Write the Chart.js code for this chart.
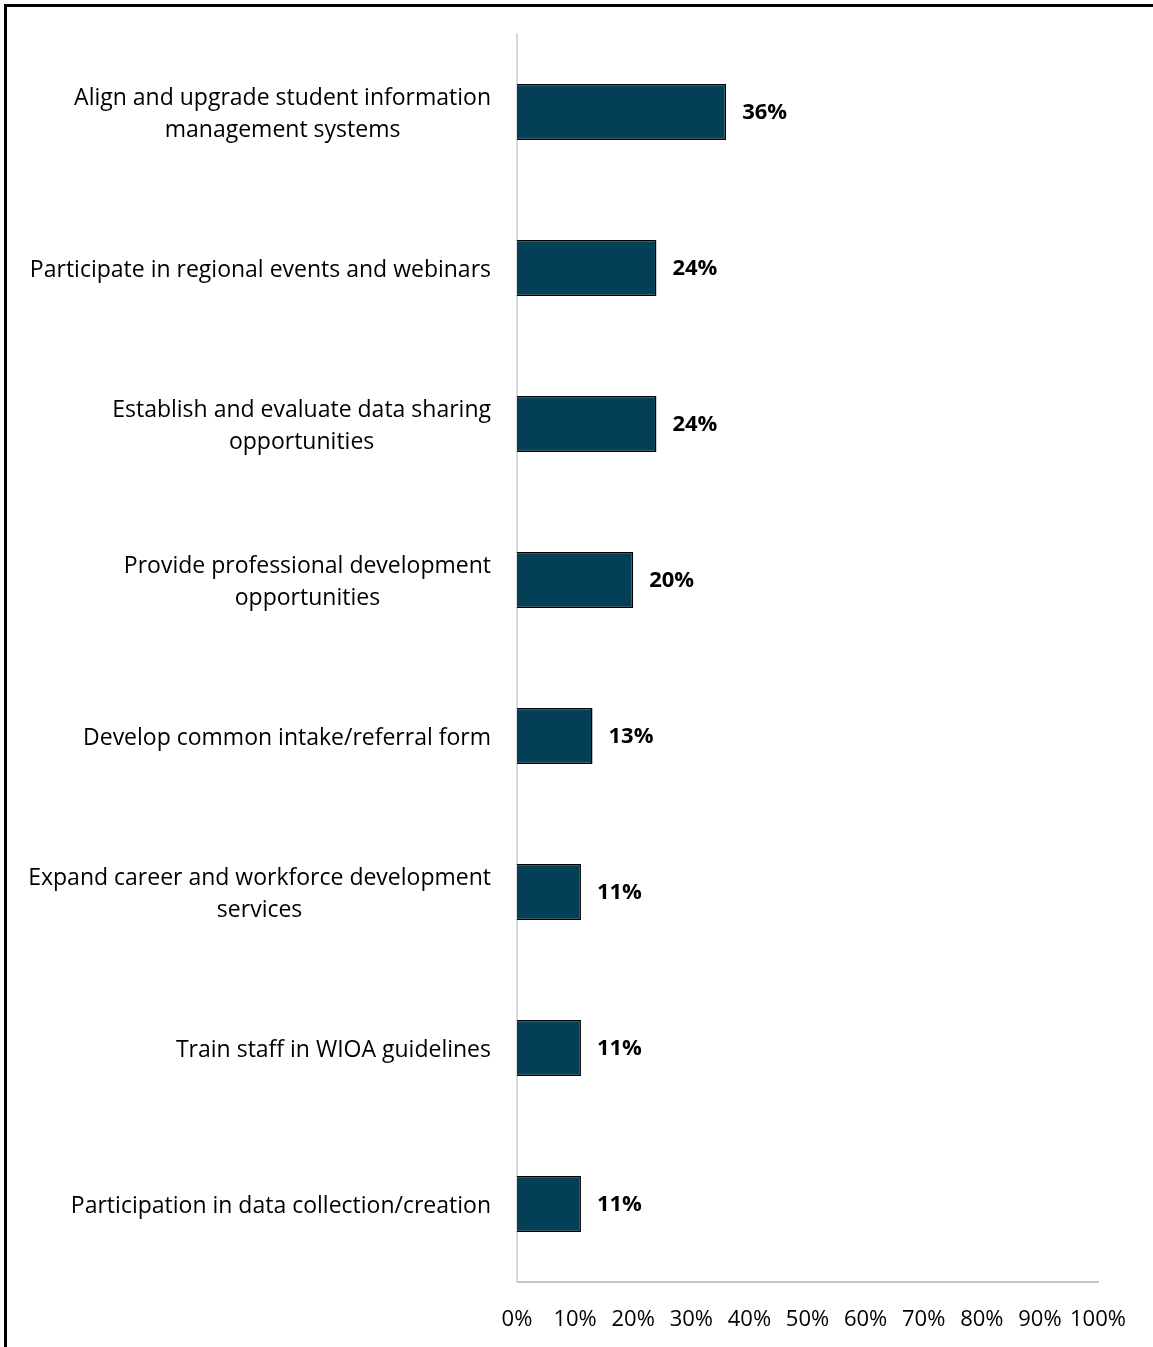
<!DOCTYPE html>
<html>
<head>
<meta charset="utf-8">
<script src="https://cdn.jsdelivr.net/npm/chart.js@4"></script>
<style>
  html, body { margin: 0; padding: 0; background: #fff; overflow: hidden; }
  .frame {
    position: absolute; left: 4px; top: 4px; width: 1200px; height: 1400px;
    border-top: 3px solid #000; border-left: 3px solid #000;
  }
  .chart-container { position: absolute; left: 0; top: 0; width: 1153px; height: 1347px; }
</style>
</head>
<body>
<div class="frame"></div>
<div class="chart-container"><canvas id="chart"></canvas></div>
<script>
const categories = [
    ['Align and upgrade student information', 'management systems'],
    ['Participate in regional events and webinars'],
    ['Establish and evaluate data sharing', 'opportunities'],
    ['Provide professional development', 'opportunities'],
    ['Develop common intake/referral form'],
    ['Expand career and workforce development', 'services'],
    ['Train staff in WIOA guidelines'],
    ['Participation in data collection/creation'],
];
const values = [36, 24, 24, 20, 13, 11, 11, 11];
const xTicks = [0, 10, 20, 30, 40, 50, 60, 70, 80, 90, 100];

const FONT = '"Open Sans", Lato, sans-serif';

// category labels: block right-aligned, lines centred within it
const categoryLabels = {
    id: 'categoryLabels',
    afterDraw(chart) {
        const ctx = chart.ctx;
        const y = chart.scales.y;
        const right = chart.chartArea.left - 26;
        ctx.save();
        ctx.font = '23px ' + FONT;
        ctx.fillStyle = '#000';
        ctx.textBaseline = 'middle';
        ctx.textAlign = 'center';
        categories.forEach((lines, i) => {
            const w = Math.max(...lines.map(l => ctx.measureText(l).width));
            const cx = right - w / 2;
            const cy = y.getPixelForValue(i) + 2;
            const lh = 32;
            const top = cy - (lines.length - 1) * lh / 2;
            lines.forEach((l, j) => ctx.fillText(l, cx, top + j * lh));
        });
        ctx.restore();
    }
};

// value labels at the end of each bar
const valueLabels = {
    id: 'valueLabels',
    afterDatasetsDraw(chart) {
        const ctx = chart.ctx;
        const meta = chart.getDatasetMeta(0);
        ctx.save();
        ctx.font = 'bold 22px ' + FONT;
        ctx.fillStyle = '#000';
        ctx.textBaseline = 'middle';
        ctx.textAlign = 'left';
        meta.data.forEach((bar, i) => {
            ctx.fillText(values[i] + '%', bar.x + 16, bar.y + 1);
        });
        ctx.restore();
    }
};

new Chart(document.getElementById('chart'), {
    type: 'bar',
    data: {
        labels: categories.map(c => c.join(' ')),
        datasets: [{
            data: values,
            backgroundColor: '#033f56',
            borderColor: '#000',
            borderWidth: 1.5,
            categoryPercentage: 1,
            barPercentage: 0.36
        }]
    },
    options: {
        indexAxis: 'y',
        responsive: true,
        maintainAspectRatio: false,
        animation: false,
        layout: { padding: { top: 34, right: 55, left: 0, bottom: 0 } },
        plugins: {
            legend: { display: false },
            tooltip: { enabled: false }
        },
        scales: {
            x: {
                min: 0,
                max: 100,
                afterBuildTicks: (scale) => { scale.ticks = xTicks.map(v => ({ value: v })); },
                grid: { display: false, drawTicks: false },
                border: { display: true, color: '#c4c4c4', width: 2 },
                ticks: {
                    callback: v => v + '%',
                    color: '#000',
                    font: { family: FONT, size: 22 },
                    padding: 25,
                    maxRotation: 0,
                    autoSkip: false
                },
                afterFit: (scale) => { scale.height = 65; }
            },
            y: {
                grid: { display: false, drawTicks: false },
                border: { display: true, color: '#d9d9d9', width: 2 },
                ticks: { display: false },
                afterFit: (scale) => { scale.width = 517; }
            }
        }
    },
    plugins: [categoryLabels, valueLabels]
});
</script>
</body>
</html>
